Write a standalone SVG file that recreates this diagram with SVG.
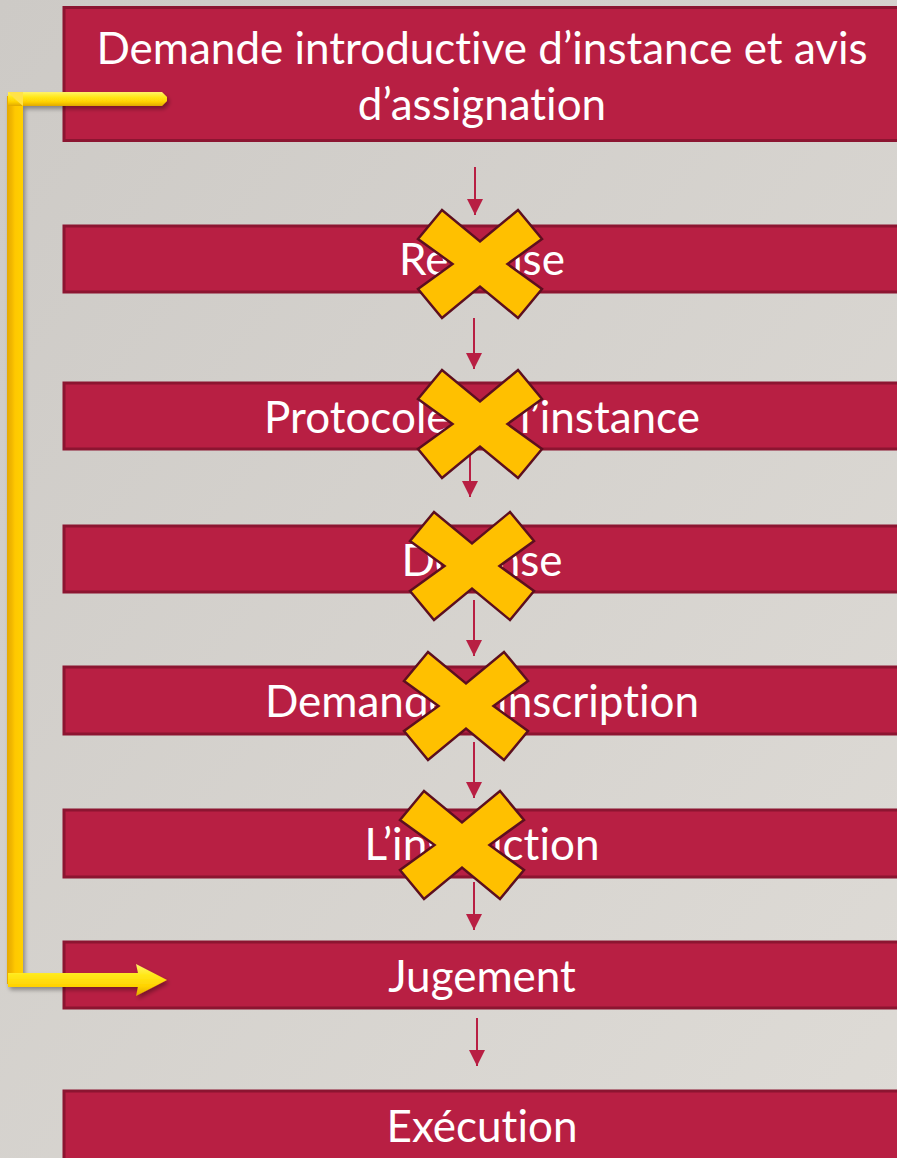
<svg xmlns="http://www.w3.org/2000/svg" width="897" height="1158" viewBox="0 0 897 1158">
<defs>
<linearGradient id="bg" x1="0" y1="0" x2="1" y2="1">
<stop offset="0" stop-color="#cdcac6"/>
<stop offset="1" stop-color="#dedbd6"/>
</linearGradient>
<linearGradient id="goldH" x1="0" y1="0" x2="0" y2="1">
<stop offset="0" stop-color="#fff36a"/>
<stop offset="0.35" stop-color="#ffe81a"/>
<stop offset="0.7" stop-color="#ffd200"/>
<stop offset="1" stop-color="#e0a800"/>
</linearGradient>
<linearGradient id="goldV" x1="0" y1="0" x2="1" y2="0">
<stop offset="0" stop-color="#e6a900"/>
<stop offset="0.3" stop-color="#f2b800"/>
<stop offset="0.5" stop-color="#ffc800"/>
<stop offset="1" stop-color="#ffd000"/>
</linearGradient>
<filter id="shadow" x="-20%" y="-20%" width="140%" height="140%">
<feGaussianBlur in="SourceAlpha" stdDeviation="2"/>
<feOffset dx="2" dy="3" result="o"/>
<feComponentTransfer><feFuncA type="linear" slope="0.35"/></feComponentTransfer>
<feMerge><feMergeNode/><feMergeNode in="SourceGraphic"/></feMerge>
</filter>
<marker id="ah" viewBox="0 0 16 16" markerWidth="16" markerHeight="16" refX="16" refY="8" markerUnits="userSpaceOnUse" orient="auto">
<path d="M0,0 L16,8 L0,16 Z" fill="#b81f43"/>
</marker>
<path id="xmark" d="M-62,-25 L-38,-54 L0,-22.5 L38,-54 L62,-25 L27.5,0 L62,25 L38,54 L0,22.5 L-38,54 L-62,25 L-27.5,0 Z"/>
</defs>
<style>
.box{fill:#b81f43;stroke:#8c1531;stroke-width:3}
.lbl{fill:#ffffff;font-family:Lato,"Open Sans","Liberation Sans",sans-serif;font-size:44px;text-anchor:middle;font-variant-ligatures:none}
.conn{stroke:#b81f43;stroke-width:2;fill:none}
.x{fill:#ffc000;stroke:#5c0f1f;stroke-width:2.5;stroke-linejoin:miter}
</style>
<rect x="0" y="0" width="897" height="1158" fill="url(#bg)"/>

<g id="node-demande">
<rect class="box" x="64" y="7.5" width="850" height="133"/>
<text class="lbl" x="482" y="64">Demande introductive d’instance et avis</text>
<text class="lbl" x="482" y="120">d’assignation</text>
</g>
<g id="node-reponse">
<rect class="box" x="64" y="226" width="850" height="66"/>
<text class="lbl" x="482" y="275">Réponse</text>
</g>
<g id="node-protocole">
<rect class="box" x="64" y="383" width="850" height="66"/>
<text class="lbl" x="482" y="433">Protocole de l’instance</text>
</g>
<g id="node-defense">
<rect class="box" x="64" y="526" width="850" height="66"/>
<text class="lbl" x="482" y="576">Défense</text>
</g>
<g id="node-inscription">
<rect class="box" x="64" y="667" width="850" height="67"/>
<text class="lbl" x="482" y="717">Demande d’inscription</text>
</g>
<g id="node-instruction">
<rect class="box" x="64" y="810" width="850" height="67"/>
<text class="lbl" x="482" y="860">L’instruction</text>
</g>
<g id="node-jugement">
<rect class="box" x="64" y="942" width="850" height="66"/>
<text class="lbl" x="482" y="992">Jugement</text>
</g>
<g id="node-execution">
<rect class="box" x="64" y="1091" width="850" height="80"/>
<text class="lbl" x="482" y="1142">Exécution</text>
</g>

<g id="connectors">
<line class="conn" x1="475" y1="167" x2="475" y2="215" marker-end="url(#ah)"/>
<line class="conn" x1="474" y1="318" x2="474" y2="369" marker-end="url(#ah)"/>
<line class="conn" x1="470" y1="452" x2="470" y2="497" marker-end="url(#ah)"/>
<line class="conn" x1="474" y1="600" x2="474" y2="656" marker-end="url(#ah)"/>
<line class="conn" x1="474" y1="742" x2="474" y2="798" marker-end="url(#ah)"/>
<line class="conn" x1="474" y1="882" x2="474" y2="930" marker-end="url(#ah)"/>
<line class="conn" x1="477" y1="1018" x2="477" y2="1066" marker-end="url(#ah)"/>
<g id="gold-bypass" filter="url(#shadow)">
<rect x="7" y="96" width="16" height="888" fill="url(#goldV)"/>
<path d="M8,92 L162,92 L167,97 L167,101 L162,106 L8,106 Z" fill="url(#goldH)"/>
<path d="M8,92 L23,92 L23,106 L16,100 Z" fill="#ffe24a"/>
<path d="M8,973 L138,973 L136,964 L167,980 L136,996 L138,987 L8,987 Z" fill="url(#goldH)"/>
</g>
</g>

<g id="cross-marks">
<use href="#xmark" class="x" x="480" y="264"/>
<use href="#xmark" class="x" x="480" y="424"/>
<use href="#xmark" class="x" x="472" y="566"/>
<use href="#xmark" class="x" x="466" y="706"/>
<use href="#xmark" class="x" x="462" y="845"/>
</g>
</svg>
